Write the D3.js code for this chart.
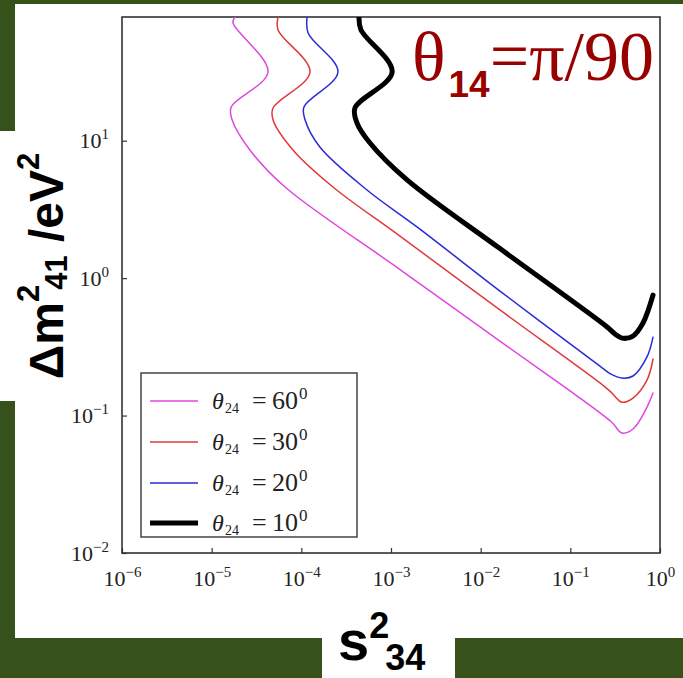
<!DOCTYPE html>
<html>
<head>
<meta charset="utf-8">
<script src="https://cdn.jsdelivr.net/npm/d3@7"></script>
<style>
  html, body { margin: 0; padding: 0; background: #36521a; }
  svg { display: block; }
</style>
</head>
<body>
<svg id="chart" width="683" height="678"></svg>
<script>
// ---------------- data ----------------
const xTickValues = [1e-6, 1e-5, 1e-4, 1e-3, 1e-2, 1e-1, 1];
const xTickExps   = ["−6", "−5", "−4", "−3", "−2", "−1", "0"];
const yTickValues = [1e-2, 1e-1, 1, 10];
const yTickExps   = ["−2", "−1", "0", "1"];

const legendAngles = ["60", "30", "20", "10"];
const seriesColors = ["#e046e0", "#e03a3a", "#2a2ad6", "#000000"];
const seriesWidths = [1.5, 1.5, 1.5, 5];

// θ24 = 60°
const s60x = [1.82e-5, 1.73e-5, 4.25e-5, 1.65e-5, 1.69e-5, 2.67e-5, 6.58e-5, 1.26e-3, 0.0164, 0.284, 0.377, 0.500, 0.681, 0.836];
const s60y = [79.4, 71.9, 31.6, 17.6, 14.2, 8.55, 4.60, 1.155, 0.348, 0.0905, 0.0747, 0.0798, 0.108, 0.146];
// θ24 = 30°
const s30x = [5.50e-5, 5.50e-5, 1.25e-4, 4.83e-5, 4.83e-5, 8.07e-5, 2.25e-4, 1.26e-3, 0.0164, 0.214, 0.284, 0.377, 0.500, 0.716, 0.836];
const s30y = [79.4, 64.0, 31.6, 17.3, 14.2, 8.55, 4.60, 2.02, 0.587, 0.173, 0.148, 0.125, 0.134, 0.181, 0.258];
// θ24 = 20°
const s20x = [1.16e-4, 1.19e-4, 2.56e-4, 1.07e-4, 1.10e-4, 1.61e-4, 5.40e-4, 1.95e-3, 0.0164, 0.214, 0.284, 0.377, 0.500, 0.716, 0.836];
const s20y = [79.4, 60.8, 31.6, 17.6, 14.2, 9.0, 4.38, 2.36, 0.805, 0.229, 0.200, 0.1875, 0.194, 0.267, 0.372];
// θ24 = 10°
const s10x = [4.40e-4, 4.62e-4, 1.03e-3, 3.96e-4, 4.17e-4, 5.83e-4, 1.51e-3, 0.0164, 0.257, 0.315, 0.377, 0.500, 0.646, 0.836];
const s10y = [79.4, 64.0, 31.6, 17.3, 13.5, 9.62, 5.18, 1.64, 0.441, 0.392, 0.366, 0.379, 0.471, 0.753];

const seriesX = [s60x, s30x, s20x, s10x];
const seriesY = [s60y, s30y, s20y, s10y];

// ---------------- layout ----------------
const svg = d3.select("#chart");
const W = 683, H = 678;
const plot = { left: 122, right: 660, top: 17, bottom: 553 };

// white panels over the green background
svg.append("rect").attr("x", 15).attr("y", 4).attr("width", W - 15).attr("height", 634).attr("fill", "#fff");
svg.append("rect").attr("x", 0).attr("y", 131).attr("width", 16).attr("height", 270).attr("fill", "#fff");
svg.append("rect").attr("x", 322).attr("y", 637).attr("width", 133).attr("height", 41).attr("fill", "#fff");

const x = d3.scaleLog().domain([1e-6, 1]).range([plot.left, plot.right]);
const y = d3.scaleLog().domain([1e-2, Math.pow(10, 1.9)]).range([plot.bottom, plot.top]);

// clip
svg.append("defs").append("clipPath").attr("id", "clip")
  .append("rect").attr("x", plot.left).attr("y", plot.top)
  .attr("width", plot.right - plot.left).attr("height", plot.bottom - plot.top);

// axes
function supLabels(sel, exps) {
  sel.selectAll(".tick text").each(function(d, i) {
    const t = d3.select(this);
    t.text(null);
    t.append("tspan").text("10");
    t.append("tspan").attr("dy", "-0.6em").attr("font-size", "15px").text(exps[i]);
  });
}

const tickFont = "'Liberation Serif', 'DejaVu Serif', serif";
const xAxis = d3.axisBottom(x).tickValues(xTickValues).tickSizeInner(-5).tickSizeOuter(0).tickPadding(17);
const gx = svg.append("g").attr("transform", `translate(0,${plot.bottom})`).call(xAxis);
gx.select(".domain").remove();
gx.selectAll(".tick line").attr("stroke", "#333").attr("stroke-width", 1.2);
gx.selectAll(".tick text").attr("font-family", tickFont).attr("font-size", "22px").attr("fill", "#222");
supLabels(gx, xTickExps);

const yAxis = d3.axisLeft(y).tickValues(yTickValues).tickSizeInner(-5).tickSizeOuter(0).tickPadding(13);
const gy = svg.append("g").attr("transform", `translate(${plot.left},0)`).call(yAxis);
gy.select(".domain").remove();
gy.selectAll(".tick line").attr("stroke", "#333").attr("stroke-width", 1.2);
gy.selectAll(".tick text").attr("font-family", tickFont).attr("font-size", "22px").attr("fill", "#222");
supLabels(gy, yTickExps);

// frame
svg.append("rect").attr("x", plot.left).attr("y", plot.top)
  .attr("width", plot.right - plot.left).attr("height", plot.bottom - plot.top)
  .attr("fill", "none").attr("stroke", "#333").attr("stroke-width", 1.6);

// curves
const line = d3.line().x(d => x(d[0])).y(d => y(d[1])).curve(d3.curveCatmullRom.alpha(0.5));
const gLines = svg.append("g").attr("clip-path", "url(#clip)");
seriesX.forEach((xs, k) => {
  const pts = xs.map((v, i) => [v, seriesY[k][i]]);
  gLines.append("path").datum(pts).attr("d", line)
    .attr("fill", "none").attr("stroke", seriesColors[k])
    .attr("stroke-width", seriesWidths[k]).attr("stroke-linejoin", "round").attr("stroke-linecap", "round");
});

// legend
const lg = svg.append("g");
lg.append("rect").attr("x", 141).attr("y", 373).attr("width", 216).attr("height", 164)
  .attr("fill", "#fff").attr("stroke", "#444").attr("stroke-width", 1.5);
const legY = [401, 442, 483, 523];
legendAngles.forEach((a, k) => {
  lg.append("line").attr("x1", 150).attr("x2", 198).attr("y1", legY[k]).attr("y2", legY[k])
    .attr("stroke", seriesColors[k]).attr("stroke-width", seriesWidths[k]);
  const t = lg.append("text").attr("y", legY[k] + 8)
    .attr("font-family", tickFont).attr("font-size", "24px").attr("fill", "#222");
  t.append("tspan").attr("x", 212).attr("font-style", "italic").text("θ");
  t.append("tspan").attr("x", 225).attr("font-size", "14px").attr("dy", "4").text("24");
  t.append("tspan").attr("x", 252).attr("dy", "-4").attr("font-size", "26px").text("=");
  t.append("tspan").attr("x", 272).attr("font-size", "26px").text(a);
  t.append("tspan").attr("x", 299).attr("font-size", "17px").attr("dy", "-10").text("0");
});

// title
const title = svg.append("text").attr("x", 412).attr("y", 80).attr("fill", "#990000")
  .attr("font-family", "'Liberation Serif', serif").attr("font-size", "70px");
title.append("tspan").text("θ");
title.append("tspan").attr("font-family", "'Liberation Sans', Arial, sans-serif").attr("font-weight", "bold")
  .attr("font-size", "37px").attr("dy", "17").attr("dx", "3").text("14");
title.append("tspan").attr("dy", "-17").text("=π/90");

// y-axis label
const yl = svg.append("text").attr("transform", "translate(63,266) rotate(-90)")
  .attr("text-anchor", "middle").attr("font-family", "'Liberation Sans', Arial, sans-serif")
  .attr("font-weight", "bold").attr("font-size", "48px").attr("fill", "#000");
yl.append("tspan").text("Δm");
yl.append("tspan").attr("font-size", "31px").attr("dy", "-24").text("2");
yl.append("tspan").attr("font-size", "31px").attr("dy", "28").attr("dx", "-5").text("41");
yl.append("tspan").attr("dy", "-4").text(" /eV");
yl.append("tspan").attr("font-size", "31px").attr("dy", "-24").text("2");

// x-axis label
const xl = svg.append("text").attr("x", 338).attr("y", 660)
  .attr("font-family", "'Liberation Sans', Arial, sans-serif")
  .attr("font-weight", "bold").attr("font-size", "56px").attr("fill", "#000");
xl.append("tspan").text("s");
xl.append("tspan").attr("font-size", "36px").attr("dy", "-22").text("2");
xl.append("tspan").attr("font-size", "36px").attr("dy", "32").attr("dx", "-4").text("34");
</script>
</body>
</html>
